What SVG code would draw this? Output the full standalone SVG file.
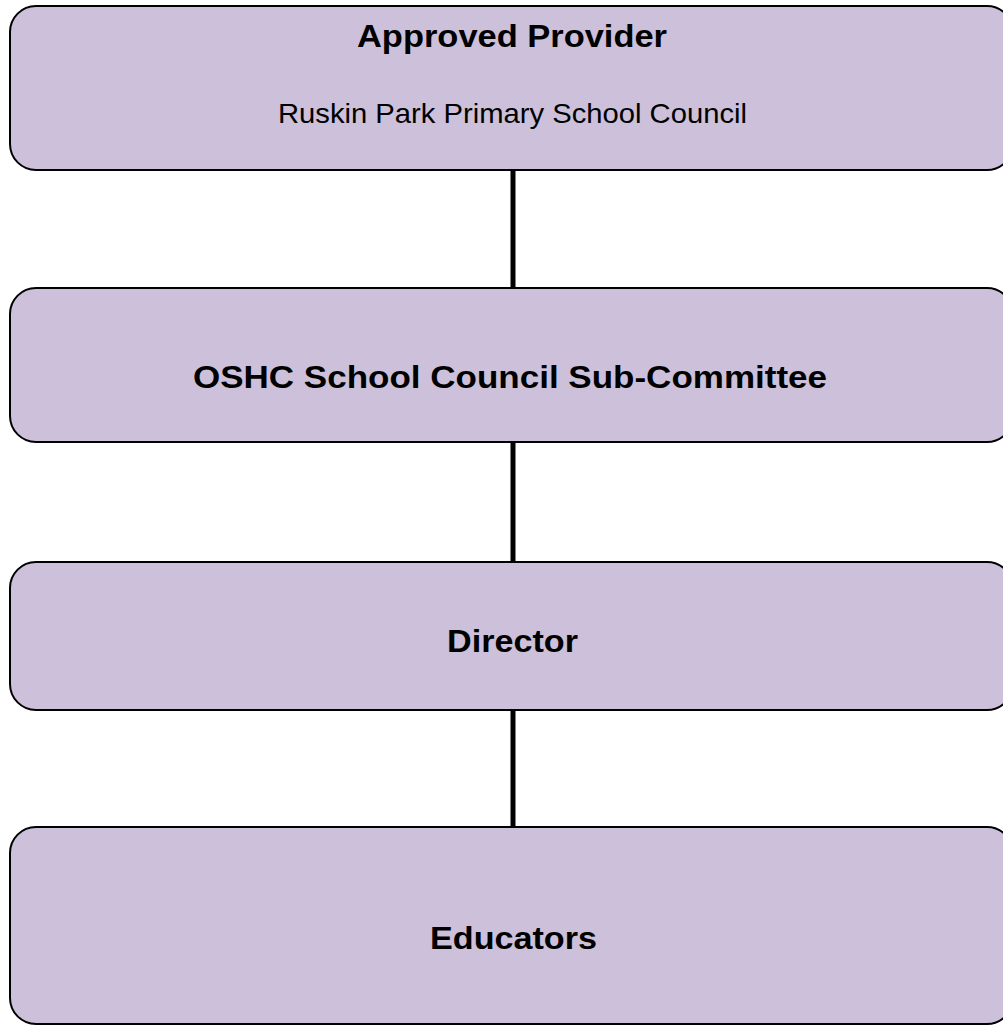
<svg xmlns="http://www.w3.org/2000/svg" width="1003" height="1027" viewBox="0 0 1003 1027">
<style>
.box{fill:#CCC0DA;stroke:#000;stroke-width:2}
.conn{stroke:#000;stroke-width:5;fill:none}
.t{font-family:"Liberation Sans",Arial,sans-serif;font-weight:bold;font-size:31px;fill:#000;text-anchor:middle}
.s{font-family:"Liberation Sans",Arial,sans-serif;font-size:28px;fill:#000;text-anchor:middle}
</style>
<rect width="1003" height="1027" fill="#fff"/>
<g id="connectors">
<line class="conn" x1="513" y1="170" x2="513" y2="288"/>
<line class="conn" x1="513" y1="442" x2="513" y2="562"/>
<line class="conn" x1="513" y1="710" x2="513" y2="827"/>
</g>
<g id="approved-provider">
<rect class="box" x="10" y="6" width="1003" height="164" rx="26" ry="26"/>
<text class="t" x="512" y="47" textLength="310" lengthAdjust="spacingAndGlyphs">Approved Provider</text>
<text class="s" x="512.5" y="123" textLength="469" lengthAdjust="spacingAndGlyphs">Ruskin Park Primary School Council</text>
</g>
<g id="sub-committee">
<rect class="box" x="10" y="288" width="1003" height="154" rx="26" ry="26"/>
<text class="t" x="510" y="388" textLength="634" lengthAdjust="spacingAndGlyphs">OSHC School Council Sub-Committee</text>
</g>
<g id="director">
<rect class="box" x="10" y="562" width="1003" height="148" rx="26" ry="26"/>
<text class="t" x="512.5" y="652" textLength="131" lengthAdjust="spacingAndGlyphs">Director</text>
</g>
<g id="educators">
<rect class="box" x="10" y="827" width="1003" height="197" rx="26" ry="26"/>
<text class="t" x="513.5" y="949" textLength="167" lengthAdjust="spacingAndGlyphs">Educators</text>
</g>
</svg>
